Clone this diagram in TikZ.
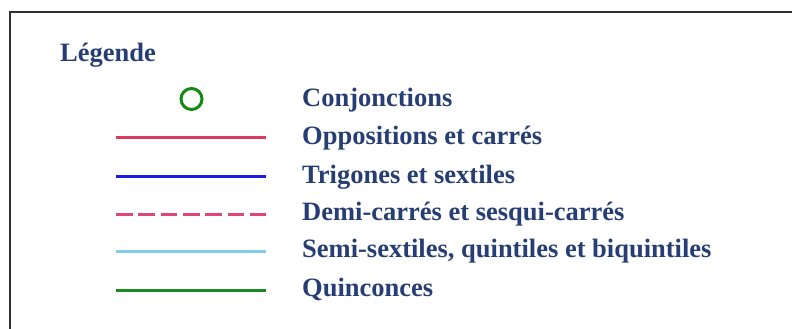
\documentclass[tikz,border=0pt]{standalone}
\usepackage{fontspec}
\setmainfont{Liberation Serif}
\usetikzlibrary{positioning}
\definecolor{legtext}{HTML}{263E73}
\definecolor{cadre}{HTML}{303030}
\definecolor{conjgreen}{HTML}{128A12}
\definecolor{oppored}{HTML}{DC3A5C}
\definecolor{triblue}{HTML}{1C1CE0}
\definecolor{demipink}{HTML}{E0457A}
\definecolor{semicyan}{HTML}{80CBEB}
\definecolor{quingreen}{HTML}{1E8A22}
\begin{document}
\begin{tikzpicture}[x=1pt,y=-1pt,
  lab/.style={anchor=base west,inner sep=0pt,text=legtext,
    font=\fontsize{26.5}{30}\selectfont\bfseries},
  aspect/.style={line width=3pt}]
\useasboundingbox (0,0) rectangle (792,329);
% cadre
\draw [line width=2pt,cadre] (10,340) -- (10,12.5) -- (800,12.5);
\node [lab] (titre) at (60,62) {Légende};
% symboles
\node [circle,draw=conjgreen,line width=3pt,minimum size=21pt,inner sep=0pt] (conj) at (191.5,99) {};
\coordinate (oppoA) at (116,137);   \coordinate (oppoB) at (266,137);
\coordinate (triA) at (116,176);    \coordinate (triB) at (266,176);
\coordinate (demiA) at (116,214);   \coordinate (demiB) at (266,214);
\coordinate (semiA) at (116,251);   \coordinate (semiB) at (266,251);
\coordinate (quinA) at (116,290);   \coordinate (quinB) at (266,290);
\draw [aspect,oppored] (oppoA) -- (oppoB);
\draw [aspect,triblue] (triA) -- (triB);
\draw [aspect,demipink,dash pattern=on 16.7pt off 5.6pt] (demiA) -- (demiB);
\draw [aspect,semicyan] (semiA) -- (semiB);
\draw [aspect,quingreen] (quinA) -- (quinB);
% textes
\node [lab] (tconj) at (302,106) {Conjonctions};
\node [lab] (toppo) at (302,144.5) {Oppositions et carrés};
\node [lab] (ttri) at (302,183) {Trigones et sextiles};
\node [lab] (tdemi) at (302,220.5) {Demi-carrés et sesqui-carrés};
\node [lab] (tsemi) at (302,257.5) {Semi-sextiles, quintiles et biquintiles};
\node [lab] (tquin) at (302,296) {Quinconces};
\end{tikzpicture}
\end{document}
